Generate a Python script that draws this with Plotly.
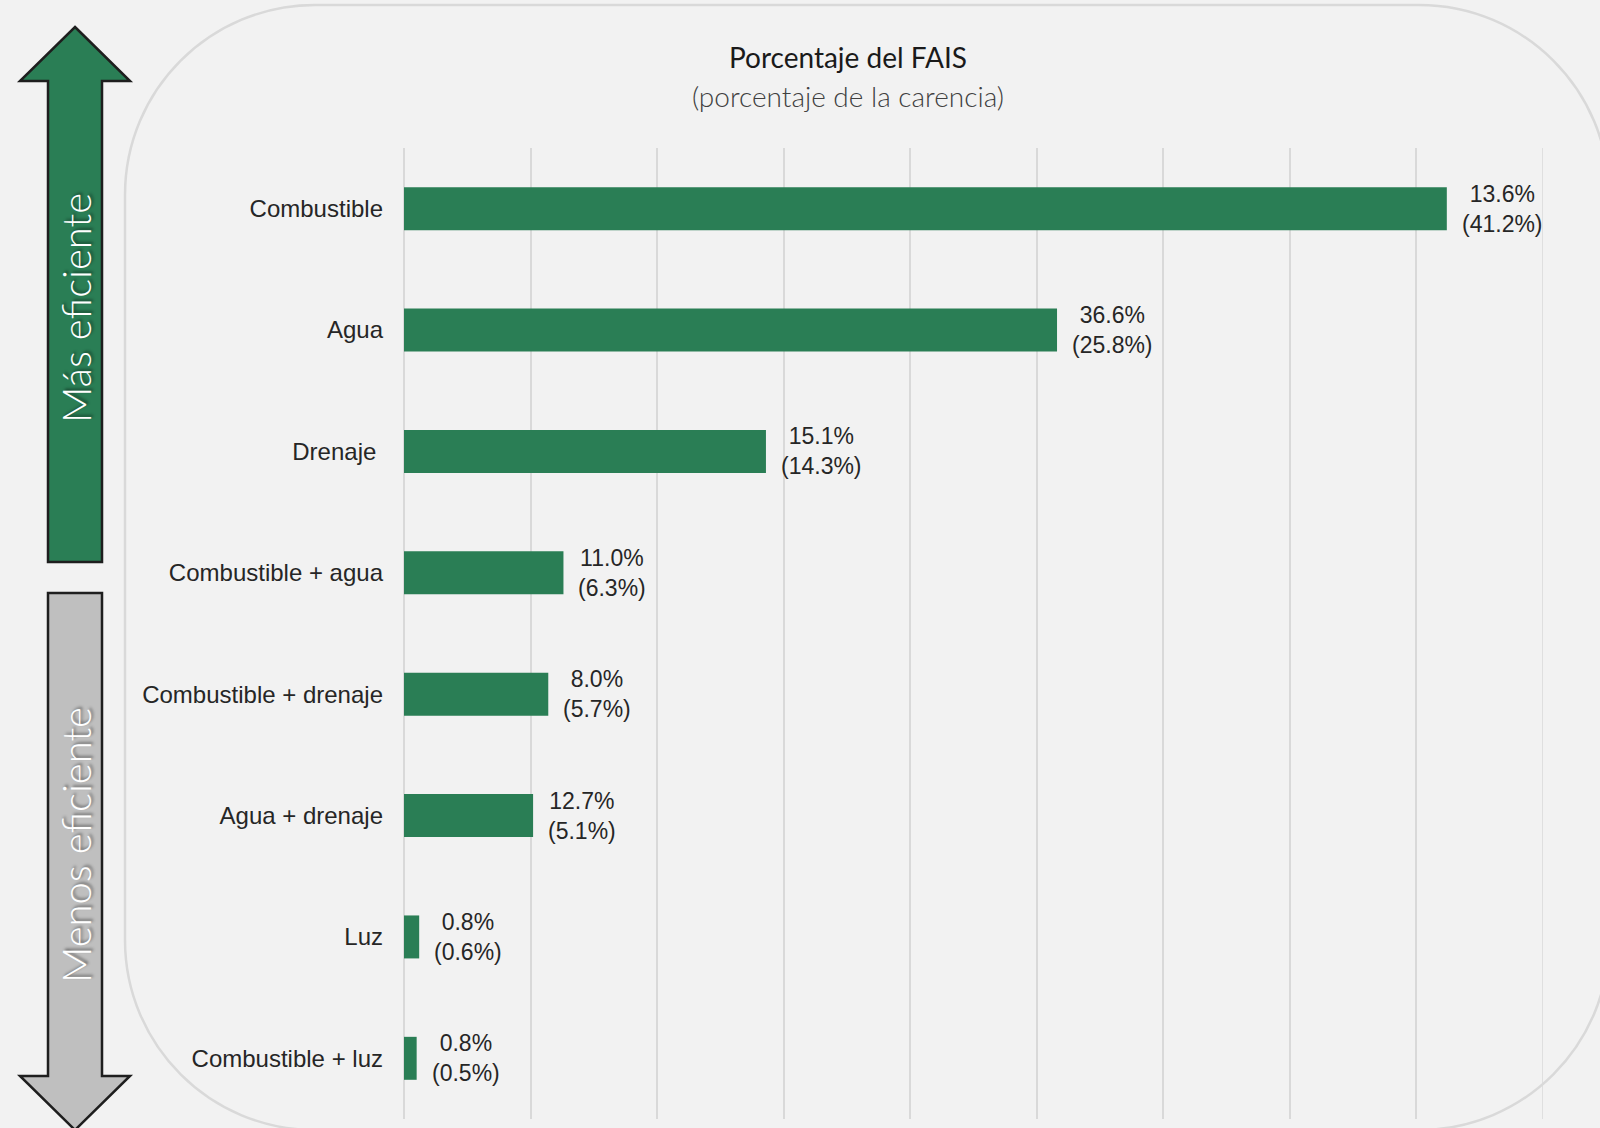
import plotly.graph_objects as go

categories = ["Combustible", "Agua", "Drenaje\u00a0", "Combustible + agua",
              "Combustible + drenaje", "Agua + drenaje", "Luz", "Combustible + luz"]
fais_pct = [13.6, 36.6, 15.1, 11.0, 8.0, 12.7, 0.8, 0.8]
carencia_pct = [41.2, 25.8, 14.3, 6.3, 5.7, 5.1, 0.6, 0.5]
x_max = 45

W, H = 1600, 1128
L, R, T, B = 404, 57, 148, 9
PW, PH = W - L - R, H - T - B

def px(x):
    return (x - L) / PW

def py(y):
    return (H - B - y) / PH

def pt(x, y):
    return f"{px(x):.5f},{py(y):.5f}"

def poly(points):
    return "M " + " L ".join(pt(x, y) for x, y in points) + " Z"

def rounded_rect(x0, y0, x1, y1, r):
    k = 0.5523 * r
    p = []
    p.append("M " + pt(x0 + r, y0))
    p.append("L " + pt(x1 - r, y0))
    p.append("C " + pt(x1 - r + k, y0) + " " + pt(x1, y0 + r - k) + " " + pt(x1, y0 + r))
    p.append("L " + pt(x1, y1 - r))
    p.append("C " + pt(x1, y1 - r + k) + " " + pt(x1 - r + k, y1) + " " + pt(x1 - r, y1))
    p.append("L " + pt(x0 + r, y1))
    p.append("C " + pt(x0 + r - k, y1) + " " + pt(x0, y1 - r + k) + " " + pt(x0, y1 - r))
    p.append("L " + pt(x0, y0 + r))
    p.append("C " + pt(x0, y0 + r - k) + " " + pt(x0 + r - k, y0) + " " + pt(x0 + r, y0))
    p.append("Z")
    return " ".join(p)

GREEN = "#2A7E55"
TXT = "#262626"
GRID = "#D9D9D9"

fig = go.Figure()
fig.add_trace(go.Bar(
    y=categories, x=carencia_pct, orientation="h",
    marker=dict(color=GREEN, line=dict(width=0)),
    width=0.354, hoverinfo="skip",
))

shapes = []
shapes.append(dict(type="path", xref="paper", yref="paper", layer="below",
                   path=rounded_rect(125, 5, 1609, 1130, 190),
                   line=dict(color=GRID, width=2.5), fillcolor="rgba(0,0,0,0)"))
shapes.append(dict(type="line", xref="x", yref="paper", layer="below",
                   x0=x_max, x1=x_max, y0=0, y1=1, line=dict(color=GRID, width=1.5)))
shapes.append(dict(type="path", xref="paper", yref="paper", layer="above",
                   path=poly([(75, 27), (130, 81), (102, 81), (102, 562), (48, 562), (48, 81), (20, 81)]),
                   line=dict(color="#1E1E1E", width=2.5), fillcolor=GREEN))
shapes.append(dict(type="path", xref="paper", yref="paper", layer="above",
                   path=poly([(48, 593), (102, 593), (102, 1076), (130, 1076), (75, 1130), (20, 1076), (48, 1076)]),
                   line=dict(color="#1E1E1E", width=2.5), fillcolor="#BFBFBF"))

annotations = []
for c, f, v in zip(categories, fais_pct, carencia_pct):
    annotations.append(dict(
        x=v, y=c, xref="x", yref="y", xanchor="left", yanchor="middle",
        xshift=13, align="center", showarrow=False,
        text=f"{f:.1f}%<br>({v:.1f}%)",
        font=dict(family="Liberation Sans, Arial", size=23, color=TXT),
    ))

annotations.append(dict(x=px(848), y=py(57), xref="paper", yref="paper", showarrow=False,
                        text="Porcentaje del FAIS", xanchor="center", yanchor="middle",
                        font=dict(family="Lato", size=28, color="#1A1A1A")))
annotations.append(dict(x=px(848), y=py(96), xref="paper", yref="paper", showarrow=False,
                        text="(porcentaje de la carencia)", xanchor="center", yanchor="middle",
                        font=dict(family="Lato", size=28, color="#404040", weight=300)))
annotations.append(dict(x=px(76), y=py(308), xref="paper", yref="paper", showarrow=False,
                        text="Más eficiente", textangle=-90, xanchor="center", yanchor="middle",
                        font=dict(family="Lato", size=40, color="white", weight=300,
                                  shadow="2px 2px 3px rgba(0,0,0,0.45)")))
annotations.append(dict(x=px(76), y=py(845), xref="paper", yref="paper", showarrow=False,
                        text="Menos eficiente", textangle=-90, xanchor="center", yanchor="middle",
                        font=dict(family="Lato", size=40, color="white", weight=300,
                                  shadow="2px 2px 3px rgba(0,0,0,0.45)")))

fig.update_layout(
    width=W, height=H,
    margin=dict(l=L, r=R, t=T, b=B, pad=0),
    paper_bgcolor="#F2F2F2", plot_bgcolor="rgba(0,0,0,0)",
    showlegend=False,
    shapes=shapes, annotations=annotations,
    xaxis=dict(range=[0, x_max], dtick=5, tick0=0, showgrid=True, gridcolor=GRID,
               gridwidth=1.5, zeroline=True, zerolinecolor=GRID, zerolinewidth=1.5,
               showticklabels=False, ticks="", showline=False, fixedrange=True),
    yaxis=dict(range=[7.5, -0.5], type="category", showgrid=False, zeroline=False,
               ticks="", ticklabelstandoff=20, showline=False, fixedrange=True,
               tickfont=dict(family="Liberation Sans, Arial", size=24, color=TXT)),
)

fig.write_html("out.html", config={"displayModeBar": False},
               post_script="document.body.style.margin='0px';document.body.style.background='#F2F2F2';")
